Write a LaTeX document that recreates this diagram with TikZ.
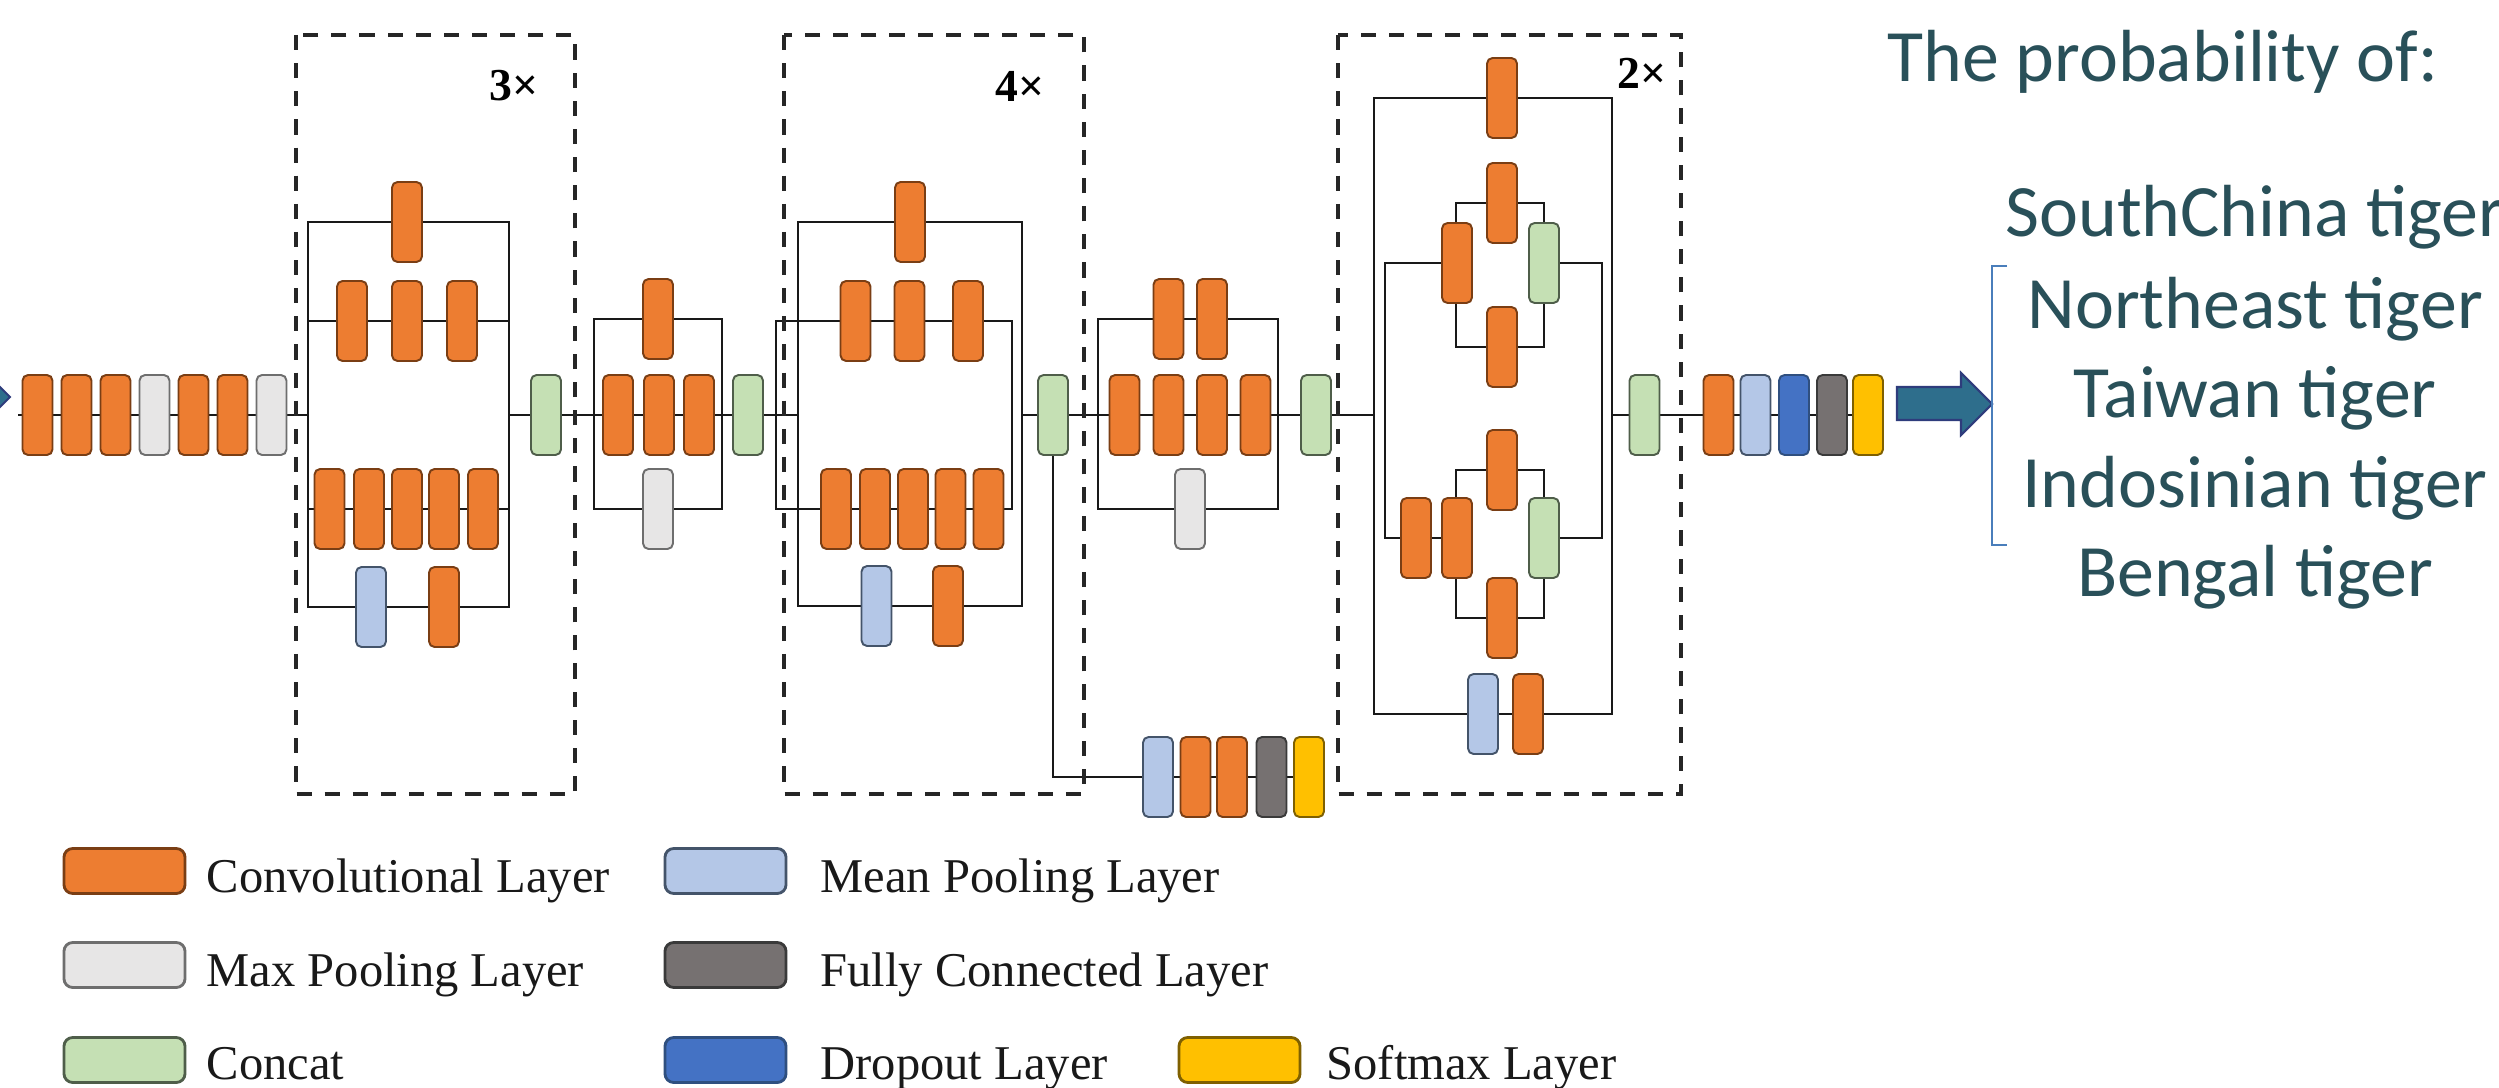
\documentclass[tikz,border=0pt]{standalone}
\usepackage{fontspec}
\setmainfont{Liberation Serif}
\newfontfamily\calib{Carlito}
\usetikzlibrary{backgrounds}
\definecolor{convF}{HTML}{ED7D31}
\definecolor{convD}{HTML}{7A3E14}
\definecolor{maxF}{HTML}{E7E6E6}
\definecolor{maxD}{HTML}{6E6E6E}
\definecolor{catF}{HTML}{C5E0B4}
\definecolor{catD}{HTML}{4F5E4A}
\definecolor{meanF}{HTML}{B4C7E7}
\definecolor{meanD}{HTML}{44546A}
\definecolor{fcF}{HTML}{767171}
\definecolor{fcD}{HTML}{3A3A3A}
\definecolor{dropF}{HTML}{4472C4}
\definecolor{dropD}{HTML}{2F4F7F}
\definecolor{softF}{HTML}{FFC000}
\definecolor{softD}{HTML}{7F6000}
\definecolor{tigerC}{HTML}{295059}
\definecolor{arrF}{HTML}{2E6E8C}
\definecolor{arrD}{HTML}{2E3C7C}
\definecolor{brC}{HTML}{4A7EBB}
\begin{document}
\begin{tikzpicture}[x=0.01cm,y=-0.01cm,
 lay/.style={rectangle,rounded corners=1.6pt,minimum width=0.3cm,minimum height=0.8cm,inner sep=0pt,line width=0.55pt},
 conv/.style={lay,fill=convF,draw=convD},
 maxp/.style={lay,fill=maxF,draw=maxD},
 cat/.style={lay,fill=catF,draw=catD},
 meanp/.style={lay,fill=meanF,draw=meanD},
 fcl/.style={lay,fill=fcF,draw=fcD},
 drop/.style={lay,fill=dropF,draw=dropD},
 soft/.style={lay,fill=softF,draw=softD},
 wire/.style={line width=0.75pt,black!90},
 dashbox/.style={line width=1.3pt,dash pattern=on 4.3pt off 3.7pt,black!85},
 icon/.style={rectangle,rounded corners=2.5pt,minimum width=1.21cm,minimum height=0.45cm,inner sep=0pt,line width=0.8pt},
 legtext/.style={anchor=base west,inner sep=0pt,text=black!90,font=\fontsize{13.8pt}{16pt}\selectfont},
 tig/.style={text=tigerC,font=\calib\fontsize{21pt}{25pt}\selectfont,inner sep=0pt},
 rep/.style={font=\bfseries\fontsize{13pt}{15pt}\selectfont,inner sep=0pt}
]
\useasboundingbox (0,0) rectangle (2499,1088);

% ---------- dashed repeat boxes ----------
\draw[dashbox] (296,35) rectangle (575,794);
\draw[dashbox] (784,35) rectangle (1084,794);
\draw[dashbox] (1338,35) rectangle (1681,794);
\node[rep] (r1) at (514,86) {3×};
\node[rep] (r2) at (1020,86) {4×};
\node[rep] (r3) at (1642,73) {2×};

% ---------- input chain ----------
\coordinate (inS) at (18,415);
\node[conv] (in1) at (37.5,415) {};
\node[conv] (in2) at (76.5,415) {};
\node[conv] (in3) at (115.5,415) {};
\node[maxp] (in4) at (154.5,415) {};
\node[conv] (in5) at (193.5,415) {};
\node[conv] (in6) at (232.5,415) {};
\node[maxp] (in7) at (271.5,415) {};

% ---------- block 1 (3x) ----------
\coordinate (b1nw) at (308,222);
\coordinate (b1se) at (509,607);
\coordinate (b1L) at (308,415);
\coordinate (b1R) at (509,415);
\node[conv] (b1t) at (407,222) {};
\node[conv] (b1a1) at (352,321) {};
\node[conv] (b1a2) at (407,321) {};
\node[conv] (b1a3) at (462,321) {};
\node[conv] (b1b1) at (329.5,509) {};
\node[conv] (b1b2) at (369,509) {};
\node[conv] (b1b3) at (407,509) {};
\node[conv] (b1b4) at (444,509) {};
\node[conv] (b1b5) at (483,509) {};
\node[meanp] (b1c1) at (371,607) {};
\node[conv] (b1c2) at (444,607) {};
\node[cat] (c1) at (546,415) {};

% ---------- block 2 ----------
\coordinate (b2nw) at (594,319);
\coordinate (b2se) at (722,509);
\node[conv] (b2t) at (658,319) {};
\node[conv] (b2m1) at (618,415) {};
\node[conv] (b2m2) at (659,415) {};
\node[conv] (b2m3) at (699,415) {};
\node[maxp] (b2b) at (658,509) {};
\node[cat] (c2) at (748,415) {};

% ---------- block 3 (4x) ----------
\coordinate (b3nw) at (798,222);
\coordinate (b3se) at (1022,606);
\coordinate (b3inw) at (776,321);
\coordinate (b3ise) at (1012,509);
\coordinate (b3L) at (798,415);
\coordinate (b3R) at (1022,415);
\node[conv] (b3t) at (910,222) {};
\node[conv] (b3a1) at (855.5,321) {};
\node[conv] (b3a2) at (909.5,321) {};
\node[conv] (b3a3) at (968,321) {};
\node[conv] (b3b1) at (836,509) {};
\node[conv] (b3b2) at (875,509) {};
\node[conv] (b3b3) at (913,509) {};
\node[conv] (b3b4) at (950.5,509) {};
\node[conv] (b3b5) at (988.5,509) {};
\node[meanp] (b3c1) at (876.5,606) {};
\node[conv] (b3c2) at (948,606) {};
\node[cat] (c3) at (1053,415) {};

% side (auxiliary) chain
\node[meanp] (s1) at (1158,777) {};
\node[conv] (s2) at (1195.5,777) {};
\node[conv] (s3) at (1232,777) {};
\node[fcl] (s4) at (1271.5,777) {};
\node[soft] (s5) at (1309,777) {};

% ---------- block 4 ----------
\coordinate (b4nw) at (1098,319);
\coordinate (b4se) at (1278,509);
\node[conv] (b4t1) at (1168.5,319) {};
\node[conv] (b4t2) at (1212,319) {};
\node[conv] (b4m1) at (1124.5,415) {};
\node[conv] (b4m2) at (1168.5,415) {};
\node[conv] (b4m3) at (1212,415) {};
\node[conv] (b4m4) at (1255.5,415) {};
\node[maxp] (b4b) at (1190,509) {};
\node[cat] (c4) at (1316,415) {};

% ---------- block 5 (2x) ----------
\coordinate (b5nw) at (1374,98);
\coordinate (b5se) at (1612,714);
\coordinate (b5L) at (1374,415);
\coordinate (b5R) at (1612,415);
\coordinate (i5tl) at (1385,263);
\coordinate (i5tr) at (1602,263);
\coordinate (i5bl) at (1385,538);
\coordinate (i5br) at (1602,538);
\coordinate (u5nw) at (1456,203);
\coordinate (u5se) at (1544,347);
\coordinate (l5nw) at (1456,470);
\coordinate (l5se) at (1544,618);
\node[conv] (b5t) at (1502,98) {};
\node[conv] (ul) at (1457,263) {};
\node[conv] (ut) at (1502,203) {};
\node[conv] (ub) at (1502,347) {};
\node[cat] (ucat) at (1544,263) {};
\node[conv] (ll1) at (1416,538) {};
\node[conv] (ll2) at (1457,538) {};
\node[conv] (lt) at (1502,470) {};
\node[conv] (lb) at (1502,618) {};
\node[cat] (lcat) at (1544,538) {};
\node[meanp] (b5m) at (1483,714) {};
\node[conv] (b5c) at (1528,714) {};
\node[cat] (c5) at (1644.5,415) {};

% ---------- final chain ----------
\node[conv] (f1) at (1718.5,415) {};
\node[meanp] (f2) at (1755.5,415) {};
\node[drop] (f3) at (1794,415) {};
\node[fcl] (f4) at (1832,415) {};
\node[soft] (f5) at (1868,415) {};

% ---------- wires (behind) ----------
\begin{pgfonlayer}{background}
\fill[white] (0,0) rectangle (2499,1088);
\draw[wire] (inS) -- (b1L);
\draw[wire] (b1nw) rectangle (b1se);
\draw[wire] (b1nw |- b1a1) -- (b1se |- b1a1);
\draw[wire] (b1nw |- b1b1) -- (b1se |- b1b1);
\draw[wire] (b1R) -- (b3L);
\draw[wire] (b2nw) rectangle (b2se);
\draw[wire] (b3nw) rectangle (b3se);
\draw[wire] (b3inw) rectangle (b3ise);
\draw[wire] (b3R) -- (b5L);
\draw[wire] (c3) |- (s1);
\draw[wire] (s1) -- (s5);
\draw[wire] (b4nw) rectangle (b4se);
\draw[wire] (b5nw) rectangle (b5se);
\draw[wire] (ul) -- (i5tl) -- (i5bl) -- (ll2);
\draw[wire] (ucat) -- (i5tr) -- (i5br) -- (lcat);
\draw[wire] (u5nw) rectangle (u5se);
\draw[wire] (l5nw) rectangle (l5se);
\draw[wire] (b5R) -- (f5);
\end{pgfonlayer}

% ---------- arrows ----------
\draw[arrD,fill=arrF,line width=0.6pt] (-90,381) -- (-21,381) -- (-21,366) -- (10,397) -- (-21,428) -- (-21,413) -- (-90,413) -- cycle;
\draw[arrD,fill=arrF,line width=0.6pt] (1897,387) -- (1961,387) -- (1961,373) -- (1992,404) -- (1961,435) -- (1961,420) -- (1897,420) -- cycle;
\draw[brC,line width=0.45pt] (2007,266) -- (1992,266) -- (1992,545) -- (2007,545);

% ---------- output text ----------
\node[tig,anchor=base west] (title) at (1887,82) {The probability of:};
\node[tig,anchor=base] (t1) at (2255,237) {SouthChina tiger};
\node[tig,anchor=base] (t2) at (2255,328) {Northeast tiger};
\node[tig,anchor=base] (t3) at (2255,417) {Taiwan tiger};
\node[tig,anchor=base] (t4) at (2255,507) {Indosinian tiger};
\node[tig,anchor=base] (t5) at (2255,596) {Bengal tiger};

% ---------- legend ----------
\node[icon,fill=convF,draw=convD] (k1) at (124.5,871) {};
\node[legtext] (k1t) at (206,892) {Convolutional Layer};
\node[icon,fill=maxF,draw=maxD] (k2) at (124.5,965) {};
\node[legtext] (k2t) at (206,986) {Max Pooling Layer};
\node[icon,fill=catF,draw=catD] (k3) at (124.5,1060) {};
\node[legtext] (k3t) at (206,1079) {Concat};
\node[icon,fill=meanF,draw=meanD] (k4) at (725.5,871) {};
\node[legtext] (k4t) at (820,892) {Mean Pooling Layer};
\node[icon,fill=fcF,draw=fcD] (k5) at (725.5,965) {};
\node[legtext] (k5t) at (820,986) {Fully Connected Layer};
\node[icon,fill=dropF,draw=dropD] (k6) at (725.5,1060) {};
\node[legtext] (k6t) at (820,1079) {Dropout Layer};
\node[icon,fill=softF,draw=softD] (k7) at (1239.5,1060) {};
\node[legtext] (k7t) at (1326,1079) {Softmax Layer};
\end{tikzpicture}
\end{document}
